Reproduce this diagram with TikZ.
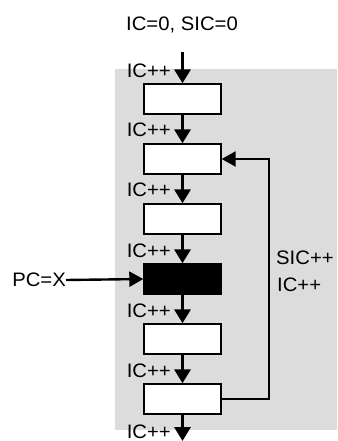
\documentclass[tikz,border=0pt]{standalone}
\usepackage{fontspec}
\setmainfont{Liberation Sans}[FakeStretch=1.04]
\usetikzlibrary{arrows.meta}
\definecolor{bggray}{HTML}{DCDCDC}

\tikzset{
    stage/.style={draw, fill=white, line width=1.4pt, minimum width=77pt, minimum height=30pt, inner sep=0pt},
    flow/.style={-{Triangle[length=14pt, width=16pt]}, line width=3.2pt},
    loopline/.style={-{Triangle[length=14pt, width=15pt]}, line width=2.4pt},
    lbl/.style={font=\fontsize{19.5pt}{21pt}\selectfont, inner sep=0pt}
}

\begin{document}
\begin{tikzpicture}[x=1pt, y=-1pt]
    \useasboundingbox (0,0) rectangle (337,441);
    % shaded area
    \fill[bggray] (115,69) rectangle (337,430);

    % stages
    \foreach \i/\yy in {1/99, 2/159, 3/219, 4/279, 5/339, 6/399}
        \node[stage] (s\i) at (182.5,\yy) {};
    \node[stage, fill=black] (s4) at (182.5,279) {};

    % counters
    \node[lbl] (init) at (182,25) {IC=0, SIC=0};
    \coordinate (entry) at (182.5,52);
    \coordinate (exit) at (182.5,441);

    \draw[flow] (entry) -- (s1.north);
    \foreach \a/\b in {1/2, 2/3, 3/4, 4/5, 5/6}
        \draw[flow] (s\a.south) -- (s\b.north);
    \draw[flow] (s6.south) -- (exit);

    % IC++ labels (baselines)
    \foreach \yy in {78, 136, 196, 257, 317, 377, 438}
        \node[lbl, anchor=base east] at (171,\yy) {IC++};

    % branch in
    \node[lbl, anchor=east] (pc) at (66,280) {PC=X};
    \draw[loopline] (pc.east) -- (s4.west);

    % loop back
    \draw[loopline] (s6.east) -- (269,399) -- (269,159) -- (s2.east);
    \node[lbl, anchor=west] (sic) at (276,258) {SIC++};
    \node[lbl, anchor=west] (ic) at (277,285) {IC++};
\end{tikzpicture}
\end{document}
